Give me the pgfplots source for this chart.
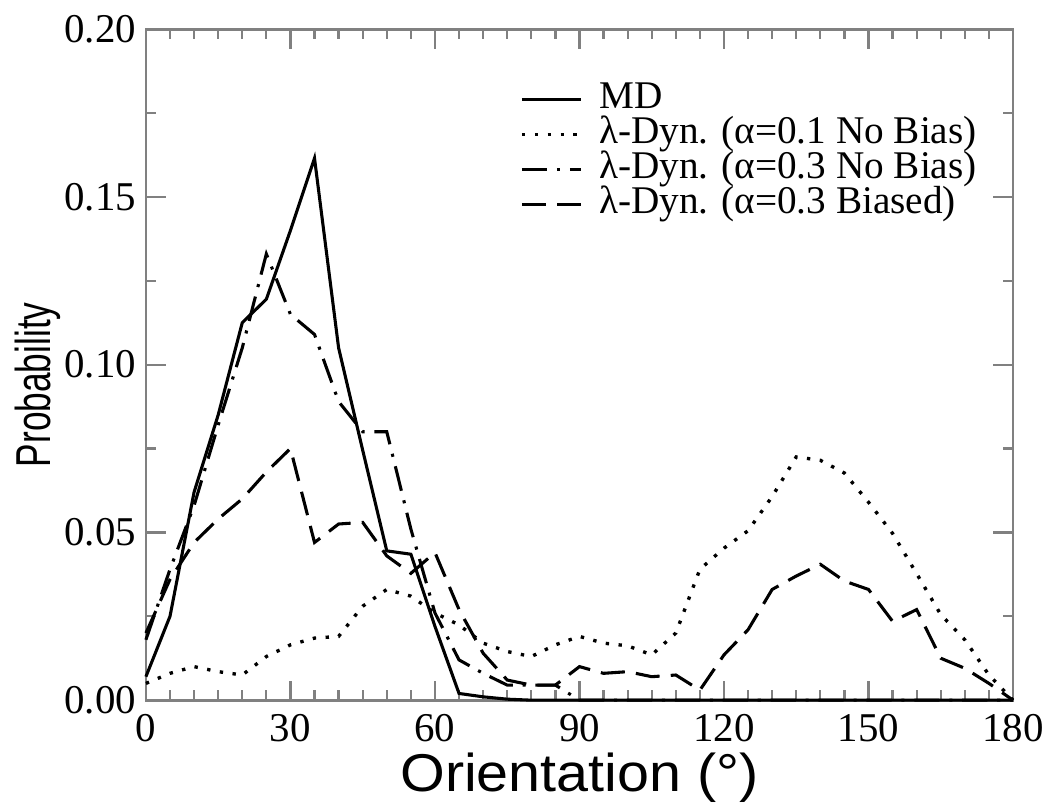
\documentclass[border=0pt]{standalone}
\usepackage{fontspec}
\setmainfont{Liberation Serif}
\newfontfamily\sansf{Liberation Sans}
\usepackage{graphicx}
\usepackage{pgfplots}
\pgfplotsset{compat=1.18}
\usetikzlibrary{calc}

\begin{document}
\begin{tikzpicture}
\begin{axis}[
  scale only axis, width=309.6pt, height=239.6pt,
  xmin=0, xmax=180, ymin=0, ymax=0.2,
  xtick={0,30,60,90,120,150,180}, minor x tick num=5,
  ytick={0,0.05,0.1,0.15,0.2}, minor y tick num=1,
  tick align=inside,
  major tick length=7pt, minor tick length=3.5pt,
  axis line style={black!50, line width=1pt},
  every tick/.style={black!50, line width=0.8pt},
  tick label style={font=\fontsize{14.6}{16}\selectfont},
  /pgf/number format/assume math mode=true,
  scaled y ticks=false,
  yticklabel style={/pgf/number format/fixed, /pgf/number format/fixed zerofill, /pgf/number format/precision=2},
  xticklabel style={yshift=-1.5pt},
  xlabel={\scalebox{1.08}[1]{Orientation (°)}}, ylabel={\scalebox{0.72}[1]{Probability}},
  xlabel style={font=\sansf\fontsize{19}{22}\selectfont, at={(axis description cs:0.5,-0.116)}, anchor=center},
  ylabel style={font=\sansf\fontsize{17.5}{20}\selectfont, at={(axis description cs:-0.1246,0.47)}, anchor=center},
  clip=false,
  legend style={draw=none, fill=none, at={(rel axis cs:0.431,0.922)}, anchor=north west,
    font=\fontsize{14}{14}\selectfont, inner sep=0pt, row sep=0pt,
    nodes={inner sep=0pt, text height=9.3pt, text depth=3.2pt}},
  legend cell align=left,
  legend image code/.code={\draw[#1] (0pt,0pt) -- (21pt,0pt); \path (27pt,0pt);},
]
\addplot[black, line width=1.1pt] coordinates {
(0,0.007) (5,0.025) (10,0.062) (15,0.085) (20,0.1125) (25,0.1195) (30,0.140) (35,0.1615)
(40,0.105) (45,0.0745) (50,0.0445) (55,0.0435) (60,0.022) (65,0.002) (70,0.001) (75,0.0003)
(80,0) (85,0) (90,0) (95,0) (100,0) (105,0) (110,0) (115,0) (120,0) (125,0) (130,0)
(135,0) (140,0) (145,0) (150,0) (155,0) (160,0) (165,0) (170,0) (175,0) (180,0)};
\addlegendentry{MD}
\addplot[black, line width=1.2pt, dash pattern=on 1.2pt off 3.4pt] coordinates {
(0,0.005) (5,0.008) (10,0.010) (15,0.0085) (20,0.0075) (25,0.013) (30,0.0165) (35,0.0185)
(40,0.019) (45,0.028) (50,0.033) (55,0.031) (60,0.026) (65,0.0224) (70,0.017) (75,0.0145)
(80,0.013) (85,0.0165) (90,0.019) (95,0.017) (100,0.0162) (105,0.0135) (110,0.020) (115,0.039)
(120,0.0453) (125,0.0505) (130,0.0607) (135,0.0725) (140,0.0715) (145,0.0677) (150,0.059)
(155,0.0497) (160,0.0377) (165,0.0255) (170,0.018) (175,0.0075) (180,0)};
\addlegendentry{λ-Dyn. (α=0.1 No Bias)}
\addplot[black, line width=1.1pt, dash pattern=on 9pt off 3.5pt on 1.1pt off 3.5pt] coordinates {
(0,0.018) (5,0.039) (10,0.058) (15,0.082) (20,0.105) (25,0.133) (30,0.115) (35,0.109)
(40,0.089) (45,0.080) (50,0.080) (55,0.051) (60,0.026) (65,0.012) (70,0.008) (75,0.0045)
(80,0.0045) (85,0.0045) (90,0) (95,0) (100,0) (105,0) (110,0) (115,0) (120,0) (125,0)
(130,0) (135,0) (140,0) (145,0) (150,0) (155,0) (160,0) (165,0) (170,0) (175,0) (180,0)};
\addlegendentry{λ-Dyn. (α=0.3 No Bias)}
\addplot[black, line width=1.1pt, dash pattern=on 8.6pt off 4pt] coordinates {
(0,0.020) (5,0.036) (10,0.047) (15,0.054) (20,0.060) (25,0.068) (30,0.075) (35,0.047)
(40,0.0525) (45,0.053) (50,0.043) (55,0.0378) (60,0.044) (65,0.027) (70,0.014) (75,0.006)
(80,0.0045) (85,0.0045) (90,0.010) (95,0.008) (100,0.0085) (105,0.007) (110,0.0075) (115,0.003)
(120,0.0135) (125,0.021) (130,0.033) (135,0.037) (140,0.0405) (145,0.0355) (150,0.033)
(155,0.0235) (160,0.027) (165,0.0125) (170,0.0095) (175,0.005) (180,0)};
\addlegendentry{λ-Dyn. (α=0.3 Biased)}
\coordinate (sw) at (rel axis cs:0,0);
\coordinate (ne) at (rel axis cs:1,1);
\end{axis}
\pgfresetboundingbox
\path ($(sw)+(-52.1pt,-38.2pt)$) rectangle ($(ne)+(13.2pt,10.4pt)$);
\end{tikzpicture}
\end{document}
